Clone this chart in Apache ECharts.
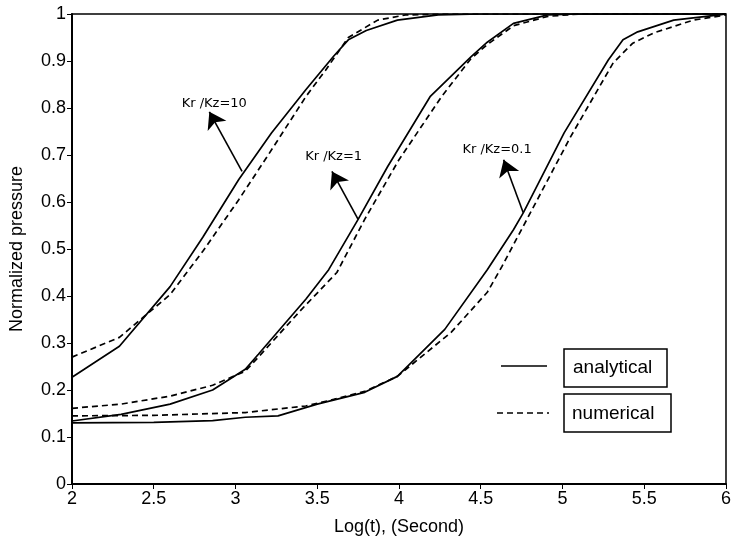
<!DOCTYPE html>
<html>
<head>
<meta charset="utf-8">
<script src="https://cdn.jsdelivr.net/npm/echarts@6/dist/echarts.min.js"></script>
<style>
  html, body { margin: 0; padding: 0; background: #fff; }
  #main { width: 734px; height: 541px; }
</style>
</head>
<body>
<div id="main"></div>
<script>
// Kr/Kz = 10
const analytical10 = [[2, 0.227], [2.29, 0.293], [2.6, 0.42], [2.8, 0.525], [3.02, 0.648], [3.22, 0.747], [3.43, 0.839], [3.6, 0.91], [3.69, 0.945], [3.8, 0.965], [3.99, 0.987], [4.24, 0.998], [4.5, 1], [6, 1]];
const numerical10 = [[2, 0.27], [2.29, 0.312], [2.6, 0.403], [2.8, 0.495], [3.02, 0.605], [3.2, 0.70], [3.43, 0.824], [3.55, 0.88], [3.69, 0.95], [3.87, 0.987], [4.04, 0.998], [4.3, 1], [6, 1]];
// Kr/Kz = 1
const analytical1 = [[2, 0.134], [2.3, 0.148], [2.6, 0.17], [2.86, 0.2], [3.06, 0.244], [3.14, 0.276], [3.43, 0.393], [3.57, 0.456], [3.75, 0.563], [3.93, 0.675], [4.19, 0.824], [4.44, 0.909], [4.54, 0.94], [4.7, 0.98], [4.91, 0.998], [5.1, 1], [6, 1]];
const numerical1 = [[2, 0.161], [2.3, 0.17], [2.6, 0.187], [2.86, 0.21], [3.06, 0.24], [3.14, 0.27], [3.4, 0.37], [3.62, 0.45], [3.79, 0.563], [4.0, 0.69], [4.26, 0.824], [4.44, 0.905], [4.54, 0.935], [4.7, 0.975], [4.91, 0.995], [5.1, 1], [6, 1]];
// Kr/Kz = 0.1
const analytical01 = [[2, 0.13], [2.5, 0.131], [2.86, 0.135], [3.06, 0.142], [3.26, 0.145], [3.5, 0.17], [3.79, 0.195], [3.99, 0.229], [4.28, 0.329], [4.54, 0.456], [4.7, 0.541], [4.76, 0.577], [5.01, 0.747], [5.28, 0.902], [5.37, 0.945], [5.46, 0.962], [5.68, 0.987], [5.96, 0.998], [6, 1]];
const numerical01 = [[2, 0.145], [2.5, 0.146], [3.06, 0.152], [3.43, 0.166], [3.6, 0.18], [3.79, 0.197], [3.99, 0.229], [4.32, 0.323], [4.54, 0.408], [4.63, 0.463], [5.05, 0.739], [5.31, 0.896], [5.43, 0.938], [5.56, 0.96], [5.8, 0.987], [6, 0.998]];

// annotations: [label, arrow start, arrow tip, label position]
const notes = [
  ['Kr /Kz=10', [3.04, 0.665], [2.84, 0.792], [2.87, 0.81]],
  ['Kr /Kz=1', [3.75, 0.563], [3.59, 0.665], [3.6, 0.696]],
  ['Kr /Kz=0.1', [4.76, 0.577], [4.64, 0.69], [4.6, 0.711]]
];

const font = '"Liberation Sans", Arial, sans-serif';
const myChart = echarts.init(document.getElementById('main'));

const solid = (data, note) => ({
  type: 'line',
  data: data,
  symbol: 'none',
  lineStyle: { color: '#000', width: 1.7 },
  markLine: {
    silent: true,
    symbol: ['none', 'arrow'],
    symbolSize: 16,
    lineStyle: { color: '#000', width: 1.6, type: 'solid' },
    label: { show: false },
    data: [[{ coord: note[1] }, { coord: note[2] }]]
  },
  markPoint: {
    silent: true,
    symbol: 'circle',
    symbolSize: 0,
    label: {
      show: true,
      position: 'inside',
      formatter: note[0],
      fontFamily: '"DejaVu Sans", sans-serif',
      fontSize: 13,
      color: '#000'
    },
    data: [{ coord: note[3] }]
  }
});
const dashed = (data) => ({
  type: 'line',
  data: data,
  symbol: 'none',
  lineStyle: { color: '#000', width: 1.7, type: [6, 4] }
});

let option = {
  animation: false,
  grid: {
    left: 72, right: 4, top: 14, bottom: 56,
    show: true,
    borderColor: '#000',
    borderWidth: 1.5
  },
  xAxis: {
    type: 'value',
    min: 2, max: 6, interval: 0.5,
    name: 'Log(t), (Second)',
    nameLocation: 'middle',
    nameGap: 34,
    nameTextStyle: { fontFamily: font, fontSize: 18, color: '#000' },
    axisLine: { lineStyle: { color: '#000', width: 2 } },
    axisTick: { length: 5, lineStyle: { color: '#000' } },
    axisLabel: { fontFamily: font, fontSize: 18, color: '#000', margin: 6 },
    splitLine: { show: false }
  },
  yAxis: {
    type: 'value',
    min: 0, max: 1, interval: 0.1,
    name: 'Normalized pressure',
    nameLocation: 'middle',
    nameGap: 46,
    nameTextStyle: { fontFamily: font, fontSize: 18, color: '#000' },
    axisLine: { lineStyle: { color: '#000', width: 2 } },
    axisTick: { length: 5, lineStyle: { color: '#000' } },
    axisLabel: {
      fontFamily: font, fontSize: 18, color: '#000', margin: 6,
      formatter: v => String(Math.round(v * 10) / 10)
    },
    splitLine: { show: false }
  },
  series: [
    solid(analytical10, notes[0]), dashed(numerical10),
    solid(analytical1, notes[1]), dashed(numerical1),
    solid(analytical01, notes[2]), dashed(numerical01)
  ],
  graphic: [
    { type: 'line', shape: { x1: 501, y1: 366, x2: 547, y2: 366 }, style: { stroke: '#000', lineWidth: 1.7 } },
    { type: 'rect', shape: { x: 564, y: 349, width: 103, height: 38 }, style: { fill: '#fff', stroke: '#000', lineWidth: 1.5 } },
    { type: 'text', x: 573, y: 368, style: { text: 'analytical', font: '19px ' + font, fill: '#000', verticalAlign: 'middle' } },
    { type: 'line', shape: { x1: 497, y1: 413, x2: 549, y2: 413 }, style: { stroke: '#000', lineWidth: 1.7, lineDash: [6, 4] } },
    { type: 'rect', shape: { x: 564, y: 394, width: 107, height: 38 }, style: { fill: '#fff', stroke: '#000', lineWidth: 1.5 } },
    { type: 'text', x: 572, y: 414, style: { text: 'numerical', font: '19px ' + font, fill: '#000', verticalAlign: 'middle' } }
  ]
};

myChart.setOption(option);
</script>
</body>
</html>
